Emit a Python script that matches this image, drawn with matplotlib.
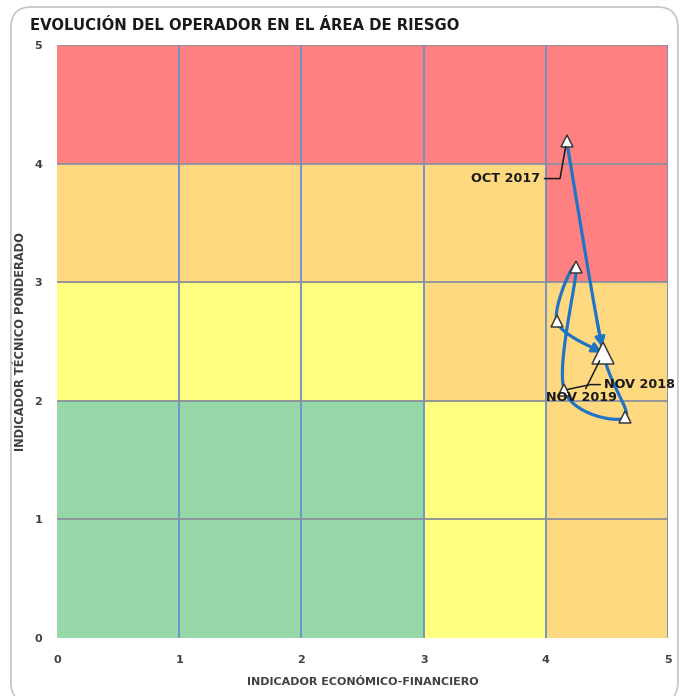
import numpy as np
import matplotlib
matplotlib.use("Agg")
import matplotlib.pyplot as plt
from matplotlib.patches import Rectangle, FancyBboxPatch

# ---- data (path of the operator; the series passes through the final position twice) ----
periods = ["OCT 2017", "P2", "P3", "NOV 2018", "P5", "P6", "NOV 2019"]
shown_labels = ["OCT 2017", "", "", "NOV 2018", "", "", "NOV 2019"]
econ = [4.17, 4.47, 4.65, 4.15, 4.25, 4.09, 4.47]
tech = [4.19, 2.40, 1.86, 2.09, 3.13, 2.67, 2.40]

# zone grid (row index = y band 0..4, column = x band 0..4)
zones = [
    ["G", "G", "G", "Y", "O"],   # y 0-1
    ["G", "G", "G", "Y", "O"],   # y 1-2
    ["Y", "Y", "Y", "O", "O"],   # y 2-3
    ["O", "O", "O", "O", "R"],   # y 3-4
    ["R", "R", "R", "R", "R"],   # y 4-5
]
zone_colors = {"G": "#96d8a8", "Y": "#ffff80", "O": "#ffd980", "R": "#ff8080"}
ticks = [0, 1, 2, 3, 4, 5]

title = "EVOLUCIÓN DEL OPERADOR EN EL ÁREA DE RIESGO"
xlabel = "INDICADOR ECONÓMICO-FINANCIERO"
ylabel = "INDICADOR TÉCNICO PONDERADO"

fig = plt.figure(figsize=(6.82, 6.96), dpi=100)
fig.patch.set_facecolor("white")

border = FancyBboxPatch((0.016, -0.01), 0.978, 1.0, boxstyle="round,pad=0,rounding_size=0.03",
                        transform=fig.transFigure, facecolor="none", edgecolor="#c4c4c4",
                        linewidth=1.2, zorder=-5)
fig.patches.append(border)

ax = fig.add_axes([0.0836, 0.0833, 0.896, 0.852])
ax.set_xlim(0, 5)
ax.set_ylim(0, 5)

for j, row in enumerate(zones):
    for i, z in enumerate(row):
        ax.add_patch(Rectangle((i, j), 1, 1, facecolor=zone_colors[z], edgecolor="none", zorder=0))

for t in ticks[1:]:
    ax.axvline(t, color="#6a8fca", lw=1.3, zorder=1)
for t in ticks[1:]:
    ax.axhline(t, color="#8c8f9c", lw=1.3, zorder=1)

for s in ax.spines.values():
    s.set_visible(False)

# ---- smoothed line (spreadsheet-style Bezier smoothing with tangent clamping) ----
P = np.column_stack([econ, tech])
n = len(P)
Pext = np.vstack([P[0], P, P[-1]])
tt = np.linspace(0, 1, 50)
segments = []
for k in range(n - 1):
    p0, p1, p2, p3 = Pext[k], Pext[k + 1], Pext[k + 2], Pext[k + 3]
    d12 = np.linalg.norm(p2 - p1)
    d02 = np.linalg.norm(p2 - p0)
    d13 = np.linalg.norm(p3 - p1)
    f1 = 1 / 6 if d02 / 6 < d12 / 2 else d12 / (2 * d02)
    f2 = 1 / 6 if d13 / 6 < d12 / 2 else d12 / (2 * d13)
    c1 = p1 + (p2 - p0) * f1
    c2 = p2 - (p3 - p1) * f2
    seg = ((1 - tt) ** 3)[:, None] * p1 + (3 * (1 - tt) ** 2 * tt)[:, None] * c1 \
        + (3 * (1 - tt) * tt ** 2)[:, None] * c2 + (tt ** 3)[:, None] * p2
    segments.append(seg)
curve = np.vstack([s if i == 0 else s[1:] for i, s in enumerate(segments)])
line_color = "#1f74c6"
ax.plot(curve[:, 0], curve[:, 1], color=line_color, lw=2.3, zorder=3, solid_capstyle="round")

# arrowheads where the path arrives at the final position
for k in (0, n - 2):
    seg = segments[k]
    ax.annotate("", xy=tuple(seg[-3]), xytext=tuple(seg[-10]),
                arrowprops=dict(arrowstyle="-|>,head_length=0.6,head_width=0.3", color=line_color,
                                lw=2.0, shrinkA=0, shrinkB=0), zorder=3)

# markers
ax.plot(econ[:-1], tech[:-1], linestyle="none", marker="^", ms=8, mfc="white",
        mec="#3a3a3a", mew=1.1, zorder=4)
ax.plot(econ[-1:], tech[-1:], linestyle="none", marker="^", ms=16, mfc="white",
        mec="#3a3a3a", mew=1.1, zorder=4)

# labels
lab_kw = dict(fontsize=9.2, fontweight="bold", color="#1a1a1a", zorder=5,
              textcoords="offset points", annotation_clip=False)
ax.annotate(shown_labels[0], xy=(econ[0], tech[0]), xytext=(-19, -27), ha="right", va="center",
            arrowprops=dict(arrowstyle="-", color="#1a1a1a", lw=1.1, shrinkA=1, shrinkB=4,
                            connectionstyle="angle,angleA=0,angleB=80,rad=0"), **lab_kw)
ax.annotate(shown_labels[3], xy=(econ[3], tech[3]), xytext=(29, 4), ha="left", va="center",
            arrowprops=dict(arrowstyle="-", color="#1a1a1a", lw=1.1, shrinkA=1, shrinkB=2,
                            connectionstyle="angle,angleA=0,angleB=12,rad=0"), **lab_kw)
ax.annotate(shown_labels[6], xy=(econ[6], tech[6]), xytext=(-16, -32), ha="center", va="center",
            arrowprops=dict(arrowstyle="-", color="#1a1a1a", lw=1.1, shrinkA=0, shrinkB=6),
            **lab_kw)

ax.set_xticks(ticks)
ax.set_yticks(ticks)
ax.set_xticklabels([str(t) for t in ticks], fontsize=8, color="#404040", fontweight="bold")
ax.set_yticklabels([str(t) for t in ticks], fontsize=8, color="#404040", fontweight="bold")
ax.tick_params(length=0)
ax.tick_params(axis="x", pad=12)
for lbl in ax.get_yticklabels():
    lbl.set_horizontalalignment("center")
ax.tick_params(axis="y", pad=13.5)

ax.set_xlabel(xlabel, fontsize=8, fontweight="bold", color="#404040", labelpad=9)
ax.set_ylabel(ylabel, fontsize=8.3, fontweight="bold", color="#404040", labelpad=5)

fig.text(0.044, 0.963, title, fontsize=10.7, fontweight="bold", color="#1a1a1a", va="center", ha="left")

fig.savefig("out.png", dpi=100)
